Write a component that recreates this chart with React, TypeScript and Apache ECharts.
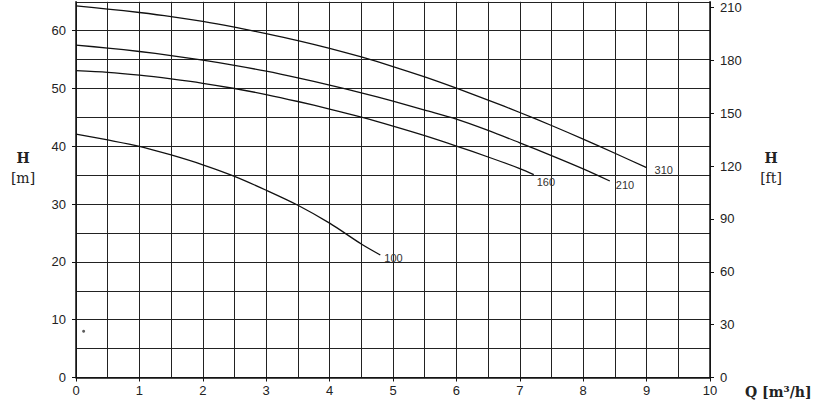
import React, { useEffect, useRef } from "react";
import * as echarts from "echarts";

const qTicks = [0, 1, 2, 3, 4, 5, 6, 7, 8, 9, 10];
const hTicksM = [0, 10, 20, 30, 40, 50, 60];
const hTicksFt = [0, 30, 60, 90, 120, 150, 180, 210];

const curveNames = ["310", "210", "160", "100"];

const q310 = [0, 0.5, 1, 1.5, 2, 2.5, 3, 3.5, 4, 4.5, 5, 5.5, 6, 6.5, 7, 7.5, 8, 8.5, 9];
const h310 = [64.3, 63.75, 63.15, 62.45, 61.6, 60.6, 59.5, 58.3, 56.95, 55.45, 53.8, 52.0, 50.05, 48.0, 45.85, 43.6, 41.25, 38.8, 36.3];

const q210 = [0, 0.5, 1, 1.5, 2, 2.5, 3, 3.5, 4, 4.5, 5, 5.5, 6, 6.5, 7, 7.5, 8, 8.42];
const h210 = [57.5, 57.0, 56.4, 55.7, 54.9, 54.0, 53.0, 51.85, 50.6, 49.25, 47.8, 46.25, 44.7, 42.75, 40.6, 38.4, 36.1, 34.0];

const q160 = [0, 0.5, 1, 1.5, 2, 2.5, 3, 3.5, 4, 4.5, 5, 5.5, 6, 6.5, 7, 7.22];
const h160 = [53.1, 52.8, 52.3, 51.65, 50.9, 50.0, 48.95, 47.75, 46.45, 45.05, 43.5, 41.85, 40.05, 38.15, 36.15, 35.1];

const q100 = [0, 0.5, 1, 1.5, 2, 2.5, 3, 3.5, 4, 4.5, 4.8];
const h100 = [42.1, 41.1, 40.0, 38.5, 36.8, 34.8, 32.4, 29.8, 26.7, 23.1, 21.2];

const markerQ = [0.12];
const markerH = [8];

const M_TO_FT = 1 / 0.3048;
const H_MAX = 65;
const Q_MAX = 10;

const curveQ = [q310, q210, q160, q100];
const curveH = [h310, h210, h160, h100];
const labelOffsets: number[][] = [[8, 2], [6, 4], [3, 7], [4, 3]];

const sans = "Liberation Sans, Arial, sans-serif";
const serif = "DejaVu Serif, serif";
const ink = "#111";
const gridInk = "#222";

export default function App() {
  const ref = useRef<HTMLDivElement>(null);
  useEffect(() => {
    const chart = echarts.init(ref.current!, null, { renderer: "svg" });
    const lineSeries = curveNames.map((name, i) => ({
      type: "line",
      name,
      xAxisIndex: 0,
      yAxisIndex: 0,
      color: ink,
      data: curveQ[i].map((q, j) => [q, curveH[i][j]]),
      smooth: 0.3,
      showSymbol: false,
      silent: true,
      lineStyle: { color: ink, width: 1.3 },
      itemStyle: { color: ink },
      endLabel: {
        show: true,
        formatter: name,
        distance: 0,
        offset: labelOffsets[i],
        fontSize: 11,
        color: "#333",
        fontFamily: sans,
      },
      emphasis: { disabled: true },
      z: 5,
    }));
    const hidden = {
      axisLine: { show: false },
      axisTick: { show: false },
      axisLabel: { show: false },
    };
    const option: any = {
      animation: false,
      grid: { left: 76, right: 111, top: 1.8, bottom: 22.5 },
      xAxis: [
        {
          type: "value",
          min: 0,
          max: Q_MAX,
          axisLine: { show: true, onZero: false, lineStyle: { color: ink, width: 1.5 } },
          axisTick: { show: true, length: 4, customValues: qTicks, lineStyle: { color: ink } },
          axisLabel: { customValues: qTicks, margin: 6, fontSize: 13, color: "#222", fontFamily: sans },
          splitLine: { show: false },
          z: 4,
        },
        {
          type: "value",
          min: 0,
          max: Q_MAX,
          interval: 0.5,
          position: "bottom",
          ...hidden,
          splitLine: { show: true, lineStyle: { color: gridInk, width: 1 } },
        },
      ],
      yAxis: [
        {
          type: "value",
          position: "left",
          min: 0,
          max: H_MAX,
          axisLine: { show: true, onZero: false, lineStyle: { color: ink, width: 1.5 } },
          axisTick: { show: true, length: 4, customValues: hTicksM, lineStyle: { color: ink } },
          axisLabel: { customValues: hTicksM, margin: 10, fontSize: 13, color: "#222", fontFamily: sans },
          splitLine: { show: false },
          z: 4,
        },
        {
          type: "value",
          position: "right",
          min: 0,
          max: H_MAX * M_TO_FT,
          axisLine: { show: true, onZero: false, lineStyle: { color: ink, width: 1.5 } },
          axisTick: { show: true, length: 4, customValues: hTicksFt, lineStyle: { color: ink } },
          axisLabel: { customValues: hTicksFt, margin: 10, fontSize: 13, color: "#222", fontFamily: sans },
          splitLine: { show: false },
          z: 4,
        },
        {
          type: "value",
          position: "left",
          min: 0,
          max: H_MAX,
          interval: 5,
          ...hidden,
          splitLine: { show: true, lineStyle: { color: gridInk, width: 1 } },
        },
      ],
      series: [
        ...lineSeries,
        {
          type: "scatter",
          xAxisIndex: 0,
          yAxisIndex: 0,
          data: markerQ.map((q, i) => [q, markerH[i]]),
          symbol: "circle",
          symbolSize: 3,
          itemStyle: { color: "#333" },
          silent: true,
        },
      ],
      graphic: [
        { type: "text", x: 23, y: 158, style: { text: "H", fontFamily: serif, fontWeight: "bold", fontSize: 14, fill: "#222", textAlign: "center", textVerticalAlign: "middle" } },
        { type: "text", x: 23, y: 178, style: { text: "[m]", fontFamily: serif, fontSize: 14, fill: "#222", textAlign: "center", textVerticalAlign: "middle" } },
        { type: "text", x: 771, y: 158, style: { text: "H", fontFamily: serif, fontWeight: "bold", fontSize: 14, fill: "#222", textAlign: "center", textVerticalAlign: "middle" } },
        { type: "text", x: 771, y: 178, style: { text: "[ft]", fontFamily: serif, fontSize: 14, fill: "#222", textAlign: "center", textVerticalAlign: "middle" } },
        { type: "text", x: 745, y: 392, style: { text: "Q [m³/h]", fontFamily: serif, fontWeight: "bold", fontSize: 14, fill: "#222", textAlign: "left", textVerticalAlign: "middle" } },
      ],
    };
    chart.setOption(option);
    return () => chart.dispose();
  }, []);
  return <div ref={ref} style={{ position: "absolute", left: 0, top: 0, width: 821, height: 400 }} />;
}
